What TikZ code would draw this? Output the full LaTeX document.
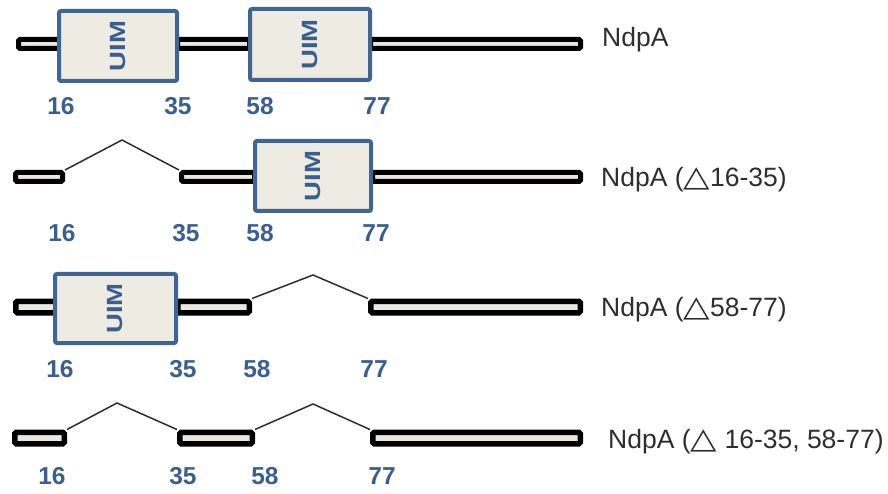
\documentclass[tikz,border=0pt]{standalone}
\usepackage{fontspec}
\setmainfont{Liberation Sans}
\newfontfamily\symf{DejaVu Sans}
\definecolor{numblue}{HTML}{3A5F8E}
\definecolor{boxline}{HTML}{3F6595}
\definecolor{boxfill}{HTML}{EDEBE2}
\definecolor{barfill}{HTML}{EAE8DC}
\definecolor{txt}{HTML}{2E2E2E}
\tikzset{
  bar/.style={draw=black, line width=5pt, fill=barfill, rounded corners=1.5pt,
    minimum height=9pt, inner sep=0pt, rectangle},
  thickbar/.style={bar, line width=5.5pt, minimum height=11.5pt},
  uim/.style={draw=boxline, line width=4pt, fill=boxfill, rounded corners=2pt,
    inner sep=0pt, rectangle, text=numblue},
  resnum/.style={anchor=base, inner sep=0pt, text=numblue, font=\fontsize{24.5}{29}\selectfont\bfseries},
  protname/.style={anchor=base west, inner sep=0pt, text=txt, font=\fontsize{26.5}{31}\selectfont},
  link/.style={draw=txt, line width=1.5pt},
}
\newcommand{\uimtext}{\rotatebox{90}{\fontsize{22}{26}\selectfont\bfseries\scalebox{1.25}[1]{UIM}}}
\newcommand{\deltri}{{\symf\scalebox{1.3}[1.1]{△}}}
\begin{document}
\begin{tikzpicture}[x=1pt,y=1pt]
\useasboundingbox (0,0) rectangle (888,493);

% full-length protein
\node[bar, minimum width=41pt] (a1) at (39,449) {};
\node[bar, minimum width=72pt] (a2) at (213.5,449) {};
\node[bar, minimum width=210pt] (a3) at (475.5,449) {};
\node[uim, minimum width=118pt, minimum height=70pt] (ua) at (118,447) {\uimtext};
\node[uim, minimum width=120pt, minimum height=71pt] (ub) at (310,448.5) {\uimtext};
\node[resnum] (a16) at (61,378) {16};
\node[resnum] (a35) at (178,378) {35};
\node[resnum] (a58) at (260,378) {58};
\node[resnum] (a77) at (377,378) {77};
\node[protname] (na) at (602,446) {NdpA};

% deletion of residues 16-35
\node[bar, minimum width=47pt] (b1) at (39,316) {};
\node[bar, minimum width=73pt] (b2) at (218,316) {};
\node[bar, minimum width=208pt] (b3) at (476.5,316) {};
\node[uim, minimum width=116pt, minimum height=70pt] (uc) at (313,317) {\uimtext};
\coordinate (bp) at (122,353);
\draw[link] (b1.north east) -- (bp) -- (b2.north west);
\node[resnum] (b16) at (62,251) {16};
\node[resnum] (b35) at (186,251) {35};
\node[resnum] (b58) at (260,251) {58};
\node[resnum] (b77) at (376,251) {77};
\node[protname] (nb) at (601,306) {NdpA (\deltri16-35)};

% deletion of residues 58-77
\node[thickbar, minimum width=40.5pt] (c1) at (36,186) {};
\node[thickbar, minimum width=71.5pt] (c2) at (213.5,186) {};
\node[thickbar, minimum width=209.5pt] (c3) at (475.5,186) {};
\node[uim, minimum width=121pt, minimum height=69pt] (ud) at (115.5,184.5) {\uimtext};
\coordinate (cp) at (313,218);
\draw[link] (c2.north east) -- (cp) -- (c3.north west);
\node[resnum] (c16) at (60,116) {16};
\node[resnum] (c35) at (183,116) {35};
\node[resnum] (c58) at (257,116) {58};
\node[resnum] (c77) at (374,116) {77};
\node[protname] (nc) at (601,177) {NdpA (\deltri58-77)};

% both UIMs deleted
\node[thickbar, minimum width=49.5pt] (d1) at (39.5,55) {};
\node[thickbar, minimum width=72.5pt] (d2) at (216,55) {};
\node[thickbar, minimum width=207.5pt] (d3) at (476.5,55) {};
\coordinate (dp1) at (117,90);
\coordinate (dp2) at (313,89);
\draw[link] (d1.north east) -- (dp1) -- (d2.north west);
\draw[link] (d2.north east) -- (dp2) -- (d3.north west);
\node[resnum] (d16) at (52,9) {16};
\node[resnum] (d35) at (183,9) {35};
\node[resnum] (d58) at (265,9) {58};
\node[resnum] (d77) at (382,9) {77};
\node[protname] (nd) at (608,45) {NdpA (\deltri{} 16-35, 58-77)};
\end{tikzpicture}
\end{document}
